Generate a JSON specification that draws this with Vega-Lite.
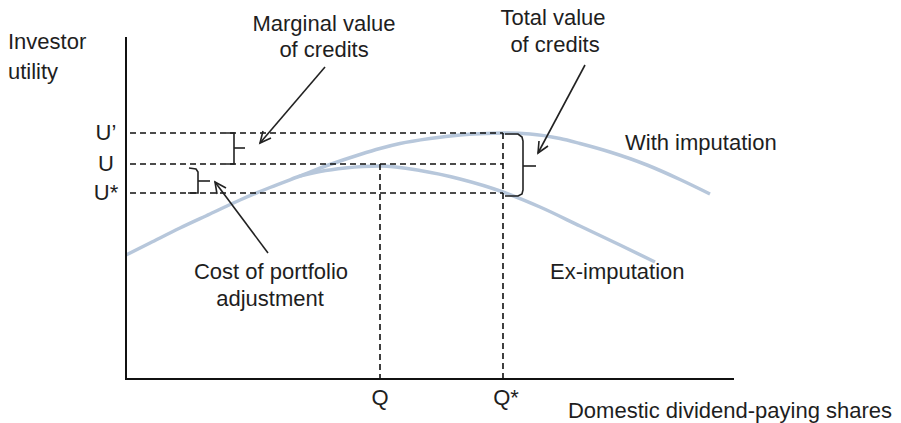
{
  "$schema": "https://vega.github.io/schema/vega-lite/v6.json",
  "width": 901,
  "height": 423,
  "autosize": {"type": "fit", "contains": "padding"},
  "padding": 0,
  "background": "white",
  "config": {"view": {"stroke": null}, "text": {"font": "Liberation Sans", "fontSize": 22, "color": "#1e1e1e"}},
  "datasets": {
    "axes": [
      {"id": "axes", "seq": 1, "x": 0, "y": 342},
      {"id": "axes", "seq": 2, "x": 0, "y": 0},
      {"id": "axes", "seq": 3, "x": 608, "y": 0}
    ],
    "guides": [
      {"id": "U1", "seq": 1, "x": 4, "y": 246}, {"id": "U1", "seq": 2, "x": 377, "y": 246},
      {"id": "U", "seq": 1, "x": 4, "y": 215}, {"id": "U", "seq": 2, "x": 377, "y": 215},
      {"id": "U2", "seq": 1, "x": 4, "y": 186}, {"id": "U2", "seq": 2, "x": 377, "y": 186},
      {"id": "Q", "seq": 1, "x": 254, "y": 215}, {"id": "Q", "seq": 2, "x": 254, "y": 0},
      {"id": "Q2", "seq": 1, "x": 377, "y": 246}, {"id": "Q2", "seq": 2, "x": 377, "y": 0}
    ],
    "annotations": [
      {"id": "b1", "seq": 1, "x": 100, "y": 246}, {"id": "b1", "seq": 2, "x": 108, "y": 246},
      {"id": "b1", "seq": 3, "x": 108, "y": 215}, {"id": "b1", "seq": 4, "x": 100, "y": 215},
      {"id": "t1", "seq": 1, "x": 108, "y": 231}, {"id": "t1", "seq": 2, "x": 119, "y": 231},
      {"id": "b2", "seq": 1, "x": 63, "y": 211}, {"id": "b2", "seq": 2, "x": 70, "y": 210},
      {"id": "b2", "seq": 3, "x": 72, "y": 207}, {"id": "b2", "seq": 4, "x": 72, "y": 186},
      {"id": "b2", "seq": 5, "x": 62, "y": 186},
      {"id": "t2", "seq": 1, "x": 72, "y": 198}, {"id": "t2", "seq": 2, "x": 84, "y": 198},
      {"id": "b3", "seq": 1, "x": 379, "y": 245}, {"id": "b3", "seq": 2, "x": 392, "y": 245},
      {"id": "b3", "seq": 3, "x": 396, "y": 242}, {"id": "b3", "seq": 4, "x": 397, "y": 238},
      {"id": "b3", "seq": 5, "x": 397, "y": 189}, {"id": "b3", "seq": 6, "x": 396, "y": 185},
      {"id": "b3", "seq": 7, "x": 392, "y": 183}, {"id": "b3", "seq": 8, "x": 379, "y": 183},
      {"id": "t3", "seq": 1, "x": 397, "y": 213}, {"id": "t3", "seq": 2, "x": 410, "y": 213},
      {"id": "a1", "seq": 1, "x": 199, "y": 312}, {"id": "a1", "seq": 2, "x": 134, "y": 236},
      {"id": "h1", "seq": 1, "x": 145, "y": 241}, {"id": "h1", "seq": 2, "x": 134, "y": 236},
      {"id": "h1", "seq": 3, "x": 137, "y": 248},
      {"id": "a2", "seq": 1, "x": 459, "y": 314}, {"id": "a2", "seq": 2, "x": 412, "y": 226},
      {"id": "h2", "seq": 1, "x": 422, "y": 233}, {"id": "h2", "seq": 2, "x": 412, "y": 226},
      {"id": "h2", "seq": 3, "x": 413, "y": 238},
      {"id": "a3", "seq": 1, "x": 142, "y": 126}, {"id": "a3", "seq": 2, "x": 89, "y": 197},
      {"id": "h3", "seq": 1, "x": 91, "y": 185}, {"id": "h3", "seq": 2, "x": 89, "y": 197},
      {"id": "h3", "seq": 3, "x": 100, "y": 191}
    ],
    "curves": [
      {"series": "With imputation", "x": 0, "y": 124},
      {"series": "With imputation", "x": 24, "y": 136},
      {"series": "With imputation", "x": 54, "y": 151},
      {"series": "With imputation", "x": 84, "y": 165},
      {"series": "With imputation", "x": 114, "y": 179},
      {"series": "With imputation", "x": 144, "y": 191.5},
      {"series": "With imputation", "x": 174, "y": 203},
      {"series": "With imputation", "x": 204, "y": 214.5},
      {"series": "With imputation", "x": 234, "y": 224.5},
      {"series": "With imputation", "x": 254, "y": 230.5},
      {"series": "With imputation", "x": 274, "y": 235.5},
      {"series": "With imputation", "x": 304, "y": 240.5},
      {"series": "With imputation", "x": 334, "y": 244},
      {"series": "With imputation", "x": 354, "y": 245.3},
      {"series": "With imputation", "x": 377, "y": 246},
      {"series": "With imputation", "x": 404, "y": 245},
      {"series": "With imputation", "x": 434, "y": 240.5},
      {"series": "With imputation", "x": 454, "y": 235.5},
      {"series": "With imputation", "x": 484, "y": 227},
      {"series": "With imputation", "x": 521, "y": 214},
      {"series": "With imputation", "x": 554, "y": 199.5},
      {"series": "With imputation", "x": 584, "y": 185},
      {"series": "Ex-imputation", "x": 174, "y": 203},
      {"series": "Ex-imputation", "x": 194, "y": 207.5},
      {"series": "Ex-imputation", "x": 219, "y": 211},
      {"series": "Ex-imputation", "x": 254, "y": 213},
      {"series": "Ex-imputation", "x": 294, "y": 208.5},
      {"series": "Ex-imputation", "x": 334, "y": 200},
      {"series": "Ex-imputation", "x": 377, "y": 187},
      {"series": "Ex-imputation", "x": 414, "y": 172},
      {"series": "Ex-imputation", "x": 454, "y": 153},
      {"series": "Ex-imputation", "x": 494, "y": 134},
      {"series": "Ex-imputation", "x": 529, "y": 117}
    ],
    "labelsCenter": [
      {"label": "U’", "x": -20, "y": 246},
      {"label": "U", "x": -20, "y": 215},
      {"label": "U*", "x": -20, "y": 186},
      {"label": "Q", "x": 254, "y": -19},
      {"label": "Q*", "x": 380, "y": -19},
      {"label": "Domestic dividend-paying shares", "x": 604, "y": -32},
      {"label": "Marginal value", "x": 198, "y": 355},
      {"label": "of credits", "x": 198, "y": 329},
      {"label": "Total value", "x": 427, "y": 361},
      {"label": "of credits", "x": 429, "y": 334},
      {"label": "Cost of portfolio", "x": 145, "y": 107},
      {"label": "adjustment", "x": 144, "y": 80}
    ],
    "labelsLeft": [
      {"label": "Investor", "x": -118, "y": 337},
      {"label": "utility", "x": -118, "y": 307},
      {"label": "With imputation", "x": 499, "y": 236},
      {"label": "Ex-imputation", "x": 424, "y": 107}
    ]
  },
  "encoding": {
    "x": {"field": "x", "type": "quantitative", "scale": {"domain": [-126, 775], "nice": false, "zero": false}, "axis": null},
    "y": {"field": "y", "type": "quantitative", "scale": {"domain": [-44, 379], "nice": false, "zero": false}, "axis": null}
  },
  "layer": [
    {
      "data": {"name": "curves"},
      "mark": {"type": "line", "color": "#b7c7db", "strokeWidth": 3.5, "interpolate": "monotone"},
      "encoding": {"detail": {"field": "series"}}
    },
    {
      "data": {"name": "guides"},
      "mark": {"type": "line", "color": "#111", "strokeWidth": 1.6, "strokeDash": [6, 4]},
      "encoding": {"detail": {"field": "id"}, "order": {"field": "seq"}}
    },
    {
      "data": {"name": "axes"},
      "mark": {"type": "line", "color": "#111", "strokeWidth": 2},
      "encoding": {"detail": {"field": "id"}, "order": {"field": "seq"}}
    },
    {
      "data": {"name": "annotations"},
      "mark": {"type": "line", "color": "#222", "strokeWidth": 1.6},
      "encoding": {"detail": {"field": "id"}, "order": {"field": "seq"}}
    },
    {
      "data": {"name": "labelsCenter"},
      "mark": {"type": "text", "align": "center", "baseline": "middle"},
      "encoding": {"text": {"field": "label"}}
    },
    {
      "data": {"name": "labelsLeft"},
      "mark": {"type": "text", "align": "left", "baseline": "middle"},
      "encoding": {"text": {"field": "label"}}
    }
  ]
}
